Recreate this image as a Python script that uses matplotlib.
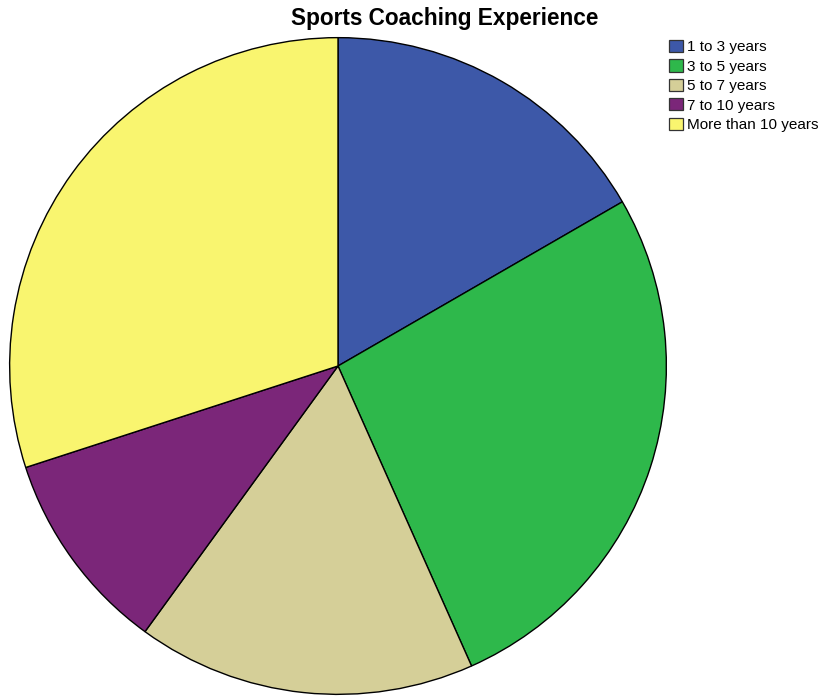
import matplotlib
matplotlib.use("Agg")
import matplotlib.pyplot as plt
from matplotlib.patches import Patch

plt.rcParams['font.family'] = ['Liberation Sans', 'DejaVu Sans']

categories = ["1 to 3 years", "3 to 5 years", "5 to 7 years", "7 to 10 years", "More than 10 years"]
counts = [5, 8, 5, 3, 9]
colors = ["#3D58A8", "#2EB84B", "#D5CF98", "#7B2679", "#F9F56F"]

fig = plt.figure(figsize=(8.27, 6.99), dpi=100)
W, H = 827, 699

# pie occupies a square region: left 8px, top 36px, diameter 660px
ax = fig.add_axes([8 / W, (H - 696) / H, 660 / W, 660 / H])
ax.pie(counts, colors=colors, startangle=90, counterclock=False,
       radius=1.0, wedgeprops=dict(edgecolor="black", linewidth=1.0))
ax.set_xlim(-1.005, 1.005)
ax.set_ylim(-1.005, 1.005)
ax.set_aspect("equal")
ax.axis("off")

fig.text(445 / W, 1 - 19 / H, "Sports Coaching Experience", ha="center", va="center",
         fontsize=16.3, fontweight="bold")

handles = [Patch(facecolor=c, edgecolor="#333333", linewidth=0.9) for c in colors]
fig.legend(handles, categories, loc="upper left", bbox_to_anchor=(669 / W, 1 - 40 / H),
           frameon=False, fontsize=11, handlelength=0.9, handleheight=0.85,
           handletextpad=0.25, labelspacing=0.33, borderaxespad=0, borderpad=0)

fig.savefig("out.png", dpi=100)
